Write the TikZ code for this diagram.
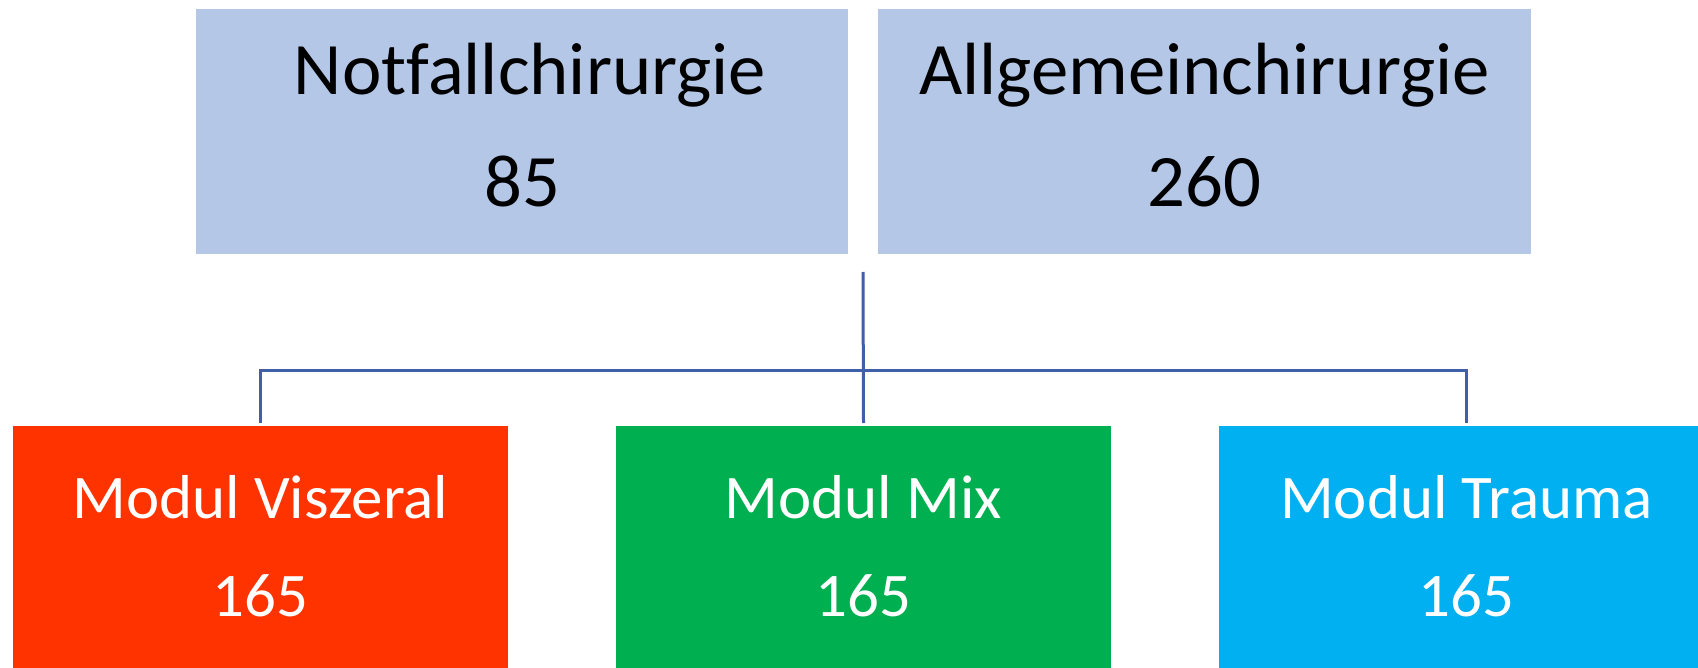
\documentclass[tikz,border=0pt]{standalone}
\usepackage{fontspec}
\setmainfont{Carlito}[Ligatures=NoCommon]
\usetikzlibrary{calc}

\definecolor{topblue}{HTML}{B4C7E7}
\definecolor{modred}{HTML}{FF3300}
\definecolor{modgreen}{HTML}{00B050}
\definecolor{modblue}{HTML}{00B0F0}
\definecolor{linkblue}{HTML}{3F60A8}

\begin{document}
\begin{tikzpicture}[x=1pt,y=-1pt,
        topbox/.style={fill=topblue,draw=none,minimum height=245pt,inner sep=0pt},
        modbox/.style={draw=none,minimum width=495pt,minimum height=260pt,inner sep=0pt},
        toptext/.style={anchor=base,font=\fontsize{74}{80}\selectfont\addfontfeature{FakeStretch=1.01},text=black,inner sep=0pt},
        modtext/.style={anchor=base,font=\fontsize{62}{68}\selectfont\addfontfeature{FakeStretch=1.015},text=white,inner sep=0pt},
        link/.style={draw=linkblue,line width=3pt}]
        \clip (0,0) rectangle (1698,668);
        \fill[white] (0,0) rectangle (1698,668);

        % obere Kaesten
        \node[topbox,minimum width=652pt] (notf) at (522,131.5) {};
        \node[topbox,minimum width=653pt] (allg) at (1204.5,131.5) {};
        \node[toptext] (notfname) at (530,95) {Notfallchirurgie};
        \node[toptext] (notfzahl) at (522,207) {85};
        \node[toptext] (allgname) at (1204.5,95) {Allgemeinchirurgie};
        \node[toptext] (allgzahl) at (1204.5,207) {260};

        % Module
        \node[modbox,fill=modred,anchor=north] (viszeral) at (260.5,426) {};
        \node[modbox,fill=modgreen,anchor=north] (mix) at (863.5,426) {};
        \node[modbox,fill=modblue,anchor=north] (trauma) at (1466.5,426) {};
        \foreach \n/\t in {viszeral/Modul Viszeral,mix/Modul Mix,trauma/Modul Trauma}{
            \node[modtext] (\n name) at ($(\n.north)+(0,92)$) {\t};
            \node[modtext] (\n zahl) at ($(\n.north)+(0,190)$) {165};
        }

        % Verbindungen
        \coordinate (hub) at (863,272);
        \coordinate (bar) at (863,371);
        \draw[link] (hub) -- ([yshift=3pt]mix.north);
        \draw[link] ([yshift=3pt]viszeral.north) |- (bar) -| ([yshift=3pt]trauma.north);
    \end{tikzpicture}
\end{document}
